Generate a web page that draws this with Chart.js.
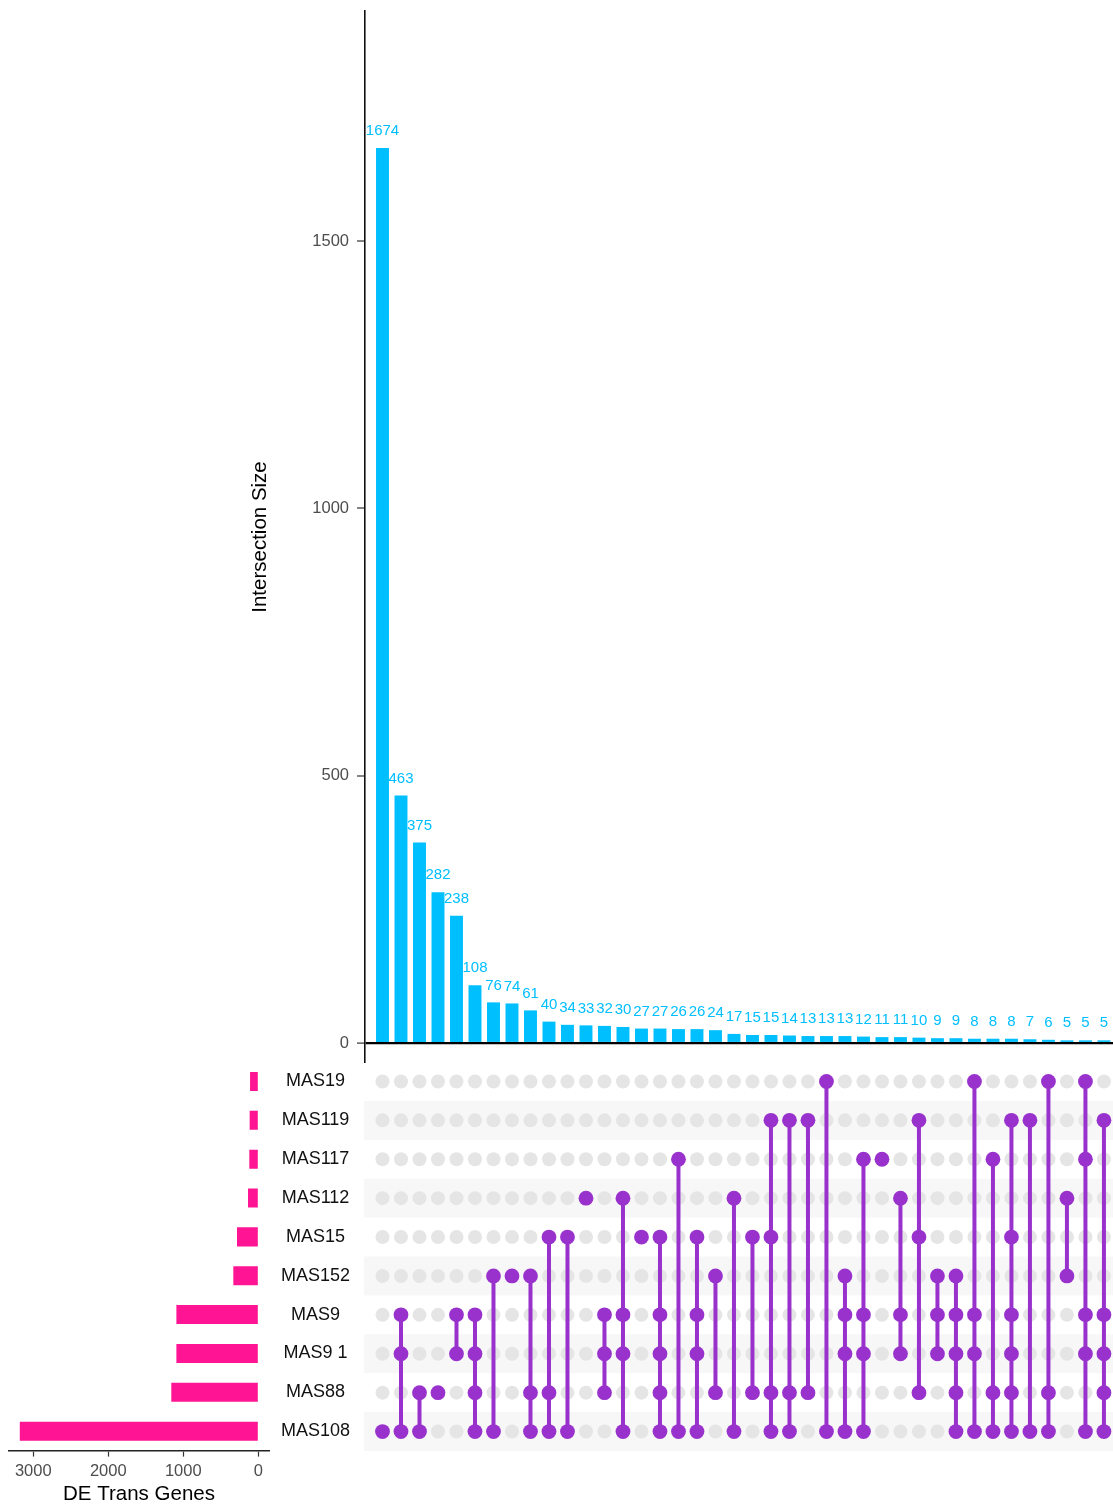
<!DOCTYPE html>
<html>
<head>
<meta charset="utf-8">
<script src="https://cdn.jsdelivr.net/npm/chart.js@4.4.1/dist/chart.umd.min.js"></script>
<style>
    body { margin: 0; background: #fff; }
    #lienzo { position: relative; width: 1113px; height: 1508px; }
    canvas { position: absolute; }
</style>
</head>
<body>
<div id="lienzo">
    <canvas id="interseccionesChart" width="1113" height="1063" style="left:0;top:0"></canvas>
    <canvas id="matrizChart" width="749" height="389" style="left:364px;top:1062px"></canvas>
    <canvas id="conjuntosChart" width="365" height="446" style="left:0;top:1062px"></canvas>
</div>
<script>
// Conjuntos (de arriba hacia abajo en la matriz)
const conjuntos = ['MAS19', 'MAS119', 'MAS117', 'MAS112', 'MAS15', 'MAS152', 'MAS9', 'MAS9 1', 'MAS88', 'MAS108'];
const tamanosConjuntos = [110, 115, 120, 137, 284, 333, 1092, 1092, 1160, 3180];

// Tamaño de cada intersección
const tamanosInterseccion = [1674, 463, 375, 282, 238, 108, 76, 74, 61, 40, 34, 33, 32, 30, 27, 27, 26, 26, 24, 17,
    15, 15, 14, 13, 13, 13, 12, 11, 11, 10, 9, 9, 8, 8, 8, 7, 6, 5, 5, 5];

// Conjuntos que forman cada intersección
const miembros = [
    ['MAS108'],
    ['MAS9', 'MAS9 1', 'MAS108'],
    ['MAS88', 'MAS108'],
    ['MAS88'],
    ['MAS9', 'MAS9 1'],
    ['MAS9', 'MAS9 1', 'MAS88', 'MAS108'],
    ['MAS152', 'MAS108'],
    ['MAS152'],
    ['MAS152', 'MAS88', 'MAS108'],
    ['MAS15', 'MAS88', 'MAS108'],
    ['MAS15', 'MAS108'],
    ['MAS112'],
    ['MAS9', 'MAS9 1', 'MAS88'],
    ['MAS112', 'MAS9', 'MAS9 1', 'MAS108'],
    ['MAS15'],
    ['MAS15', 'MAS9', 'MAS9 1', 'MAS88', 'MAS108'],
    ['MAS117', 'MAS108'],
    ['MAS15', 'MAS9', 'MAS9 1', 'MAS108'],
    ['MAS152', 'MAS88'],
    ['MAS112', 'MAS108'],
    ['MAS15', 'MAS88'],
    ['MAS119', 'MAS15', 'MAS88', 'MAS108'],
    ['MAS119', 'MAS88', 'MAS108'],
    ['MAS119', 'MAS88'],
    ['MAS19', 'MAS108'],
    ['MAS152', 'MAS9', 'MAS9 1', 'MAS108'],
    ['MAS117', 'MAS9', 'MAS9 1', 'MAS108'],
    ['MAS117'],
    ['MAS112', 'MAS9', 'MAS9 1'],
    ['MAS119', 'MAS15', 'MAS88'],
    ['MAS152', 'MAS9', 'MAS9 1'],
    ['MAS152', 'MAS9', 'MAS9 1', 'MAS88', 'MAS108'],
    ['MAS19', 'MAS9', 'MAS9 1', 'MAS108'],
    ['MAS117', 'MAS88', 'MAS108'],
    ['MAS119', 'MAS15', 'MAS9', 'MAS9 1', 'MAS88', 'MAS108'],
    ['MAS119', 'MAS108'],
    ['MAS19', 'MAS88', 'MAS108'],
    ['MAS112', 'MAS152'],
    ['MAS19', 'MAS117', 'MAS9', 'MAS9 1', 'MAS108'],
    ['MAS119', 'MAS9', 'MAS9 1', 'MAS88', 'MAS108']
];

const ticksInterseccion = [0, 500, 1000, 1500];
const ticksConjuntos = [0, 1000, 2000, 3000];

const colorBarras = '#00BFFF';
const colorConjuntos = '#FF1493';
const colorPuntos = '#9932CC';
const colorGris = '#E5E5E5';
const colorTexto = '#4D4D4D';
const fuente = '"Liberation Sans", Arial, Helvetica, sans-serif';

Chart.defaults.font.family = fuente;
Chart.defaults.animation = false;

// quita el relleno que Chart.js reserva para las etiquetas de los extremos
const sinRelleno = axis => {
    axis.paddingTop = 0;
    axis.paddingBottom = 0;
    axis.paddingLeft = 0;
    axis.paddingRight = 0;
};

// Etiquetas sobre cada barra
const etiquetasBarras = {
    id: 'etiquetasBarras',
    afterDatasetsDraw(chart) {
        const { ctx } = chart;
        const meta = chart.getDatasetMeta(0);
        ctx.save();
        ctx.font = '15px ' + fuente;
        ctx.fillStyle = colorBarras;
        ctx.textAlign = 'center';
        ctx.textBaseline = 'middle';
        meta.data.forEach((barra, i) => {
            ctx.fillText(String(tamanosInterseccion[i]), barra.x, barra.y - 17);
        });
        ctx.restore();
    }
};

new Chart(document.getElementById('interseccionesChart').getContext('2d'), {
    type: 'bar',
    data: {
        datasets: [{
            data: tamanosInterseccion.map((v, i) => ({ x: i, y: v })),
            backgroundColor: colorBarras,
            barPercentage: 0.7,
            categoryPercentage: 1
        }]
    },
    options: {
        responsive: false,
        layout: { autoPadding: false, padding: { top: 11, right: 0, bottom: 0, left: 0 } },
        scales: {
            x: {
                type: 'linear',
                display: false,
                offset: false,
                min: -0.946,
                max: 39.49
            },
            y: {
                min: -37.4,
                max: 1930.4,
                afterBuildTicks: axis => {
                    axis.ticks = ticksInterseccion.map(v => ({ value: v }));
                },
                afterFit: axis => { axis.width = 365; sinRelleno(axis); },
                border: { display: true, color: '#111', width: 1.6 },
                grid: {
                    drawOnChartArea: true,
                    color: ctx => (ctx.tick && ctx.tick.value === 0) ? '#000' : 'rgba(0,0,0,0)',
                    lineWidth: ctx => (ctx.tick && ctx.tick.value === 0) ? 2.2 : 0,
                    drawTicks: true,
                    tickLength: 8,
                    tickColor: '#333',
                    tickWidth: 1.2
                },
                ticks: {
                    color: colorTexto,
                    font: { size: 16.5 },
                    padding: 8,
                    callback: v => String(v)
                },
                title: {
                    display: true,
                    text: 'Intersection Size',
                    color: '#000',
                    font: { size: 20.5 },
                    padding: { top: 247.7, bottom: 0 }
                }
            }
        },
        plugins: {
            legend: { display: false },
            tooltip: { enabled: false }
        }
    },
    plugins: [etiquetasBarras]
});

// Franjas alternas de la matriz
const franjas = {
    id: 'franjas',
    beforeDatasetsDraw(chart) {
        const { ctx, chartArea, scales: { y } } = chart;
        ctx.save();
        ctx.fillStyle = '#F7F7F7';
        conjuntos.forEach((c, i) => {
            if (i % 2 === 1) {
                const y0 = y.getPixelForValue(i - 0.5);
                const y1 = y.getPixelForValue(i + 0.5);
                ctx.fillRect(chartArea.left, Math.min(y0, y1), chartArea.width, Math.abs(y1 - y0));
            }
        });
        ctx.restore();
    }
};

const puntosGrises = [];
const puntosActivos = [];
const lineas = [];
miembros.forEach((grupo, col) => {
    const filas = grupo.map(n => conjuntos.indexOf(n));
    conjuntos.forEach((c, fila) => {
        if (!filas.includes(fila)) puntosGrises.push({ x: col, y: fila });
    });
    filas.forEach(f => puntosActivos.push({ x: col, y: f }));
    if (filas.length > 1) {
        lineas.push({
            type: 'line',
            data: [{ x: col, y: Math.min(...filas) }, { x: col, y: Math.max(...filas) }],
            borderColor: colorPuntos,
            borderWidth: 4,
            pointRadius: 0,
            order: 1
        });
    }
});

new Chart(document.getElementById('matrizChart').getContext('2d'), {
    type: 'scatter',
    data: {
        datasets: [
            { data: puntosActivos, backgroundColor: colorPuntos, borderWidth: 0, pointRadius: 7.4, order: 0 },
            ...lineas,
            { data: puntosGrises, backgroundColor: colorGris, borderWidth: 0, pointRadius: 7, order: 2 }
        ]
    },
    options: {
        responsive: false,
        layout: { autoPadding: false, padding: 0 },
        scales: {
            x: { type: 'linear', display: false, min: -1.0, max: 39.49 },
            y: { type: 'linear', display: false, min: -0.5, max: 9.5, reverse: true }
        },
        plugins: {
            legend: { display: false },
            tooltip: { enabled: false }
        }
    },
    plugins: [franjas]
});

new Chart(document.getElementById('conjuntosChart').getContext('2d'), {
    type: 'bar',
    data: {
        labels: conjuntos,
        datasets: [{
            data: tamanosConjuntos,
            backgroundColor: colorConjuntos,
            barPercentage: 0.49,
            categoryPercentage: 1
        }]
    },
    options: {
        indexAxis: 'y',
        responsive: false,
        layout: { autoPadding: false, padding: { left: 9, top: 0, right: 0, bottom: 0 } },
        scales: {
            x: {
                position: 'bottom',
                reverse: true,
                min: -142.7,
                max: 3324,
                afterBuildTicks: axis => {
                    axis.ticks = ticksConjuntos.map(v => ({ value: v }));
                },
                afterFit: axis => { axis.height = 57.4; sinRelleno(axis); },
                border: { display: true, color: '#222', width: 1.6 },
                grid: {
                    drawOnChartArea: false,
                    drawTicks: true,
                    tickLength: 6,
                    tickColor: '#333',
                    tickWidth: 1.2
                },
                ticks: {
                    color: colorTexto,
                    font: { size: 16.5 },
                    padding: 5,
                    maxRotation: 0,
                    callback: v => String(v)
                },
                title: {
                    display: true,
                    text: 'DE Trans Genes',
                    color: '#000',
                    font: { size: 20.5 },
                    padding: { top: 0, bottom: 1 }
                }
            },
            y: {
                position: 'right',
                afterFit: axis => { axis.width = 96; sinRelleno(axis); },
                border: { display: false },
                grid: { display: false, drawTicks: false },
                ticks: {
                    color: '#111',
                    font: { size: 18 },
                    crossAlign: 'center',
                    padding: 12
                }
            }
        },
        plugins: {
            legend: { display: false },
            tooltip: { enabled: false }
        }
    }
});
</script>
</body>
</html>
